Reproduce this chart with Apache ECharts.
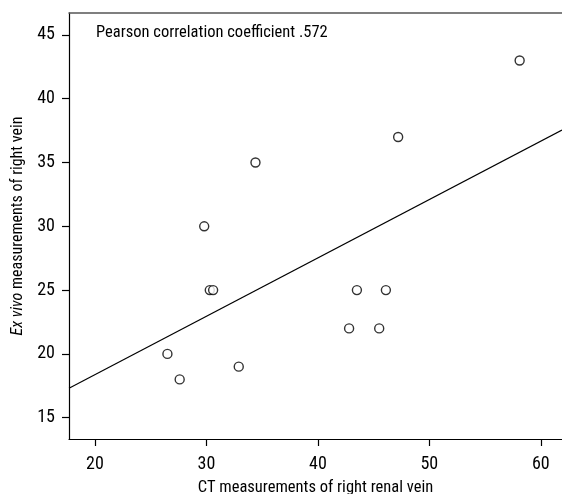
<!DOCTYPE html>
<html>
<head>
<meta charset="utf-8">
<script src="https://cdn.jsdelivr.net/npm/echarts@6/dist/echarts.min.js"></script>
<style>
html,body{margin:0;padding:0;background:#fff;}
#chart{width:562px;height:494px;}
</style>
</head>
<body>
<div id="chart"></div>
<script>
// CT measurements (x) and ex vivo measurements (y)
var ctValues = [58.1, 34.4, 47.2, 29.8, 30.3, 30.6, 26.5, 27.6, 32.9, 43.5, 46.1, 42.8, 45.5];
var exVivoValues = [43, 35, 37, 30, 25, 25, 20, 18, 19, 25, 25, 22, 22];
// regression line endpoints
var fitX = [17.67, 61.9];
var fitY = [17.31, 37.55];
var xTicks = [20, 30, 40, 50, 60];
var yTicks = [15, 20, 25, 30, 35, 40, 45];
var xRange = [17.67, 61.9];
var yRange = [13.33, 46.72];
var annotation = 'Pearson correlation coefficient .572';
var xTitle = 'CT measurements of right renal vein';
var yTitle = '{i|Ex vivo} measurements of right vein';

var FONT = '"Roboto Condensed", "Liberation Sans", sans-serif';

var points = ctValues.map(function (v, i) { return [v, exVivoValues[i]]; });
var fitLine = fitX.map(function (v, i) { return [v, fitY[i]]; });

var chart = echarts.init(document.getElementById('chart'), null, {renderer: 'canvas'});
chart.setOption({
  animation: false,
  backgroundColor: '#fff',
  textStyle: {fontFamily: FONT},
  grid: {left: 69, top: 13, right: 0, bottom: 55, containLabel: false, outerBoundsMode: 'none'},
  xAxis: [{
    type: 'value',
    min: xRange[0], max: xRange[1],
    position: 'bottom',
    axisLine: {show: true, onZero: false, lineStyle: {color: '#000', width: 1.2}},
    axisTick: {show: true, length: 7, customValues: xTicks, lineStyle: {color: '#000', width: 1.2}},
    axisLabel: {show: true, customValues: xTicks, margin: 16, color: '#000', fontSize: 18, fontFamily: FONT},
    splitLine: {show: false},
    name: xTitle,
    nameLocation: 'middle',
    nameGap: 40,
    nameTextStyle: {color: '#000', fontSize: 16.5, fontFamily: FONT}
  }, {
    type: 'value',
    min: xRange[0], max: xRange[1],
    position: 'top',
    axisLine: {show: true, onZero: false, lineStyle: {color: '#555', width: 1.5}},
    axisTick: {show: false},
    axisLabel: {show: false},
    splitLine: {show: false}
  }],
  yAxis: {
    type: 'value',
    min: yRange[0], max: yRange[1],
    axisLine: {show: true, onZero: false, lineStyle: {color: '#000', width: 1.2}},
    axisTick: {show: true, length: 7, customValues: yTicks, lineStyle: {color: '#000', width: 1.2}},
    axisLabel: {show: true, customValues: yTicks, margin: 14, color: '#000', fontSize: 18, fontFamily: FONT},
    splitLine: {show: false},
    name: yTitle,
    nameLocation: 'middle',
    nameRotate: 90,
    nameGap: 37,
    nameTextStyle: {color: '#000', fontSize: 16, fontFamily: FONT,
      rich: {i: {fontStyle: 'italic', fontSize: 16, fontFamily: FONT, color: '#000'}}}
  },
  graphic: [{
    type: 'text',
    left: 96,
    top: 24,
    style: {text: annotation, fill: '#000', font: '16.5px ' + FONT}
  }],
  series: [{
    type: 'line',
    data: fitLine,
    symbol: 'none',
    lineStyle: {color: '#000', width: 1.2},
    clip: true,
    z: 2
  }, {
    type: 'scatter',
    data: points,
    symbol: 'circle',
    symbolSize: 9,
    itemStyle: {color: '#fff', borderColor: '#000', borderWidth: 1.4},
    z: 3
  }]
});
</script>
</body>
</html>
